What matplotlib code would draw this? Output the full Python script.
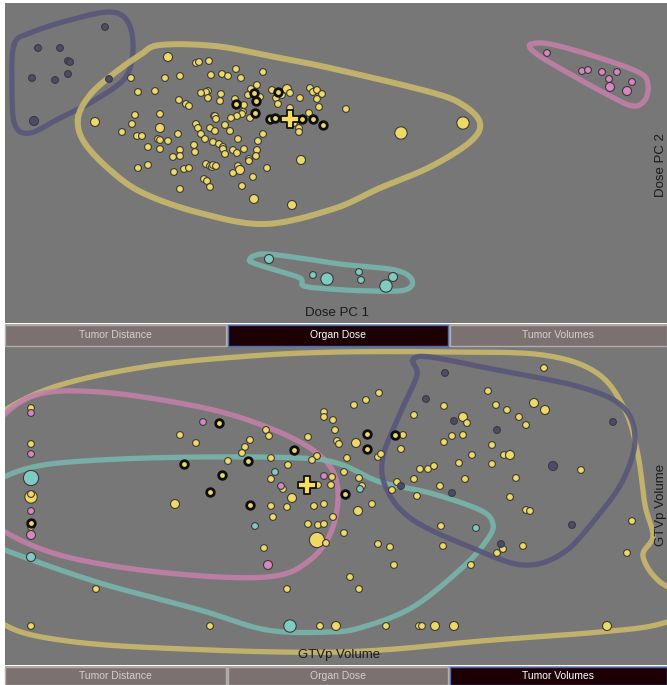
import numpy as np
import matplotlib
matplotlib.use("Agg")
import matplotlib.pyplot as plt
from matplotlib.patches import Rectangle

W, H = 667, 685

# ---------------- Organ Dose panel (screen units of the projection) ----------------
# (x, y, size class)
dose_yellow = [
    (168, 57, 2), (196, 63, 1), (199, 62, 1), (209, 61, 1), (131, 78, 1), (165, 78, 1), (180, 76, 1),
    (211, 75, 1), (138, 92, 1), (155, 91, 1), (208, 91, 1), (206, 92, 1), (201, 93, 1), (208, 98, 1),
    (179, 100, 1), (186, 104, 1), (189, 106, 1), (95, 122, 2), (135, 115, 1), (160, 114, 1), (132, 124, 1),
    (160, 128, 2), (196, 124, 1), (198, 128, 1), (210, 128, 1), (122, 132, 1), (201, 134, 1), (178, 134, 1),
    (137, 136, 1), (142, 136, 1), (158, 139, 1), (160, 140, 1), (168, 141, 1), (205, 139, 1), (194, 145, 1),
    (148, 147, 1), (160, 149, 1), (180, 150, 1), (195, 152, 1), (173, 157, 1), (180, 156, 1), (148, 165, 1),
    (138, 168, 1), (174, 172, 1), (184, 169, 1), (189, 168, 1), (206, 164, 1), (210, 166, 1), (212, 167, 1),
    (204, 179, 1), (207, 181, 1), (210, 187, 1), (180, 189, 1), (214, 116, 1), (213, 142, 1),
    (236, 69, 1), (222, 74, 1), (228, 76, 1), (241, 78, 1), (263, 72, 1), (221, 94, 1), (220, 101, 1),
    (235, 99, 1), (244, 105, 1), (248, 95, 1), (251, 89, 1), (257, 85, 1), (260, 97, 1), (243, 112, 1),
    (242, 114, 1), (250, 118, 1), (237, 116, 1), (231, 118, 1), (215, 116, 1), (216, 119, 1), (225, 125, 1),
    (215, 131, 1), (230, 131, 1), (238, 139, 1), (263, 134, 1), (258, 141, 1), (219, 144, 1), (223, 147, 1),
    (223, 149, 1), (225, 154, 1), (233, 150, 1), (237, 153, 1), (244, 149, 1), (257, 150, 1), (256, 156, 1),
    (249, 159, 1), (249, 161, 1), (213, 165, 1), (216, 166, 1), (238, 166, 1), (240, 170, 2), (233, 173, 1),
    (267, 168, 1), (253, 177, 1), (242, 186, 1), (254, 199, 2), (292, 205, 2), (272, 90, 1), (276, 98, 1),
    (282, 95, 1), (287, 89, 2), (290, 93, 1), (278, 104, 1), (290, 108, 1), (300, 98, 1), (294, 123, 1),
    (299, 128, 1), (299, 132, 1), (309, 113, 1), (310, 88, 1), (313, 92, 1), (317, 90, 1), (322, 94, 1),
    (317, 99, 1), (319, 107, 1), (301, 160, 2), (346, 109, 1), (401, 133, 3), (463, 123, 3),
]
dose_ring = [(254, 93), (256, 101), (236, 104), (255, 113), (278, 92), (270, 119), (275, 118),
             (302, 119), (313, 119), (323, 125)]
dose_cross = [(290, 119)]
dose_purple = [(105, 27, 1), (38, 48, 1), (60, 48, 1), (68, 61, 1), (70, 62, 1), (32, 78, 1),
               (55, 80, 1), (68, 74, 1), (109, 79, 1), (34, 121, 2)]
dose_pink = [(547, 53, 1), (582, 71, 1), (588, 70, 1), (602, 72, 1), (609, 79, 1), (617, 72, 1),
             (632, 82, 1), (610, 87, 2), (627, 91, 2)]
dose_teal = [(269, 259, 2), (313, 275, 1), (327, 279, 3), (359, 272, 1), (361, 280, 1),
             (386, 286, 3), (393, 277, 2)]

dose_yellow_hull = [(78, 118), (90, 95), (112, 75), (140, 55), (160, 45), (215, 46), (270, 56), (330, 68),
                    (430, 92), (463, 105), (480, 123), (470, 142), (430, 167), (380, 188), (333, 209),
                    (265, 224), (200, 213), (143, 193), (110, 170), (84, 142)]
dose_purple_hull = [(14, 45), (30, 33), (70, 20), (110, 12), (128, 22), (133, 50), (125, 78), (95, 100),
                    (60, 118), (30, 133), (15, 125), (12, 90)]
dose_pink_hull = [(530, 45), (550, 44), (600, 58), (640, 73), (648, 85), (645, 100), (633, 106),
                  (610, 96), (570, 74), (538, 55)]
dose_teal_hull = [(250, 261), (262, 254), (300, 258), (340, 264), (395, 270), (412, 280), (405, 290),
                  (370, 291), (330, 289), (304, 286), (300, 278), (275, 270)]

# ---------------- Tumor Volumes panel ----------------
vol_yellow = [
    (31, 408, 1), (31, 444, 1), (31, 475, 1), (31, 497, 3), (31, 494, 1), (31, 527, 1), (96, 589, 1),
    (31, 626, 1), (210, 626, 1), (320, 626, 1), (336, 626, 2), (287, 589, 1), (264, 548, 1), (317, 540, 4),
    (326, 543, 1), (180, 435, 1), (196, 443, 1), (266, 430, 1), (269, 436, 1), (250, 440, 1), (245, 447, 1),
    (242, 453, 1), (228, 461, 1), (271, 458, 1), (271, 479, 1), (288, 465, 1), (308, 437, 1), (324, 412, 1),
    (324, 417, 1), (333, 420, 1), (335, 430, 1), (337, 441, 1), (339, 444, 1), (347, 458, 1), (317, 456, 1),
    (312, 460, 1), (344, 472, 1), (332, 477, 1), (318, 485, 1), (331, 485, 1), (283, 489, 1), (292, 498, 2),
    (175, 504, 2), (271, 506, 1), (287, 507, 1), (273, 517, 1), (314, 506, 1), (324, 504, 1), (333, 517, 1),
    (308, 524, 1), (318, 525, 1), (324, 524, 1), (344, 533, 1),
    (488, 391, 1), (379, 393, 1), (366, 400, 1), (354, 405, 1), (444, 406, 1), (496, 405, 1), (507, 410, 1),
    (463, 417, 2), (467, 423, 1), (414, 415, 1), (519, 417, 1), (403, 435, 1), (452, 436, 1), (463, 435, 1),
    (444, 442, 1), (356, 443, 2), (401, 449, 1), (492, 445, 1), (378, 457, 1), (381, 454, 1), (472, 455, 1),
    (504, 455, 1), (510, 455, 2), (459, 463, 1), (492, 464, 1), (420, 469, 1), (428, 469, 1), (434, 466, 1),
    (359, 478, 1), (414, 479, 1), (465, 479, 1), (516, 478, 1), (362, 486, 1), (397, 482, 1), (392, 490, 1),
    (440, 486, 1), (417, 496, 1), (510, 497, 1), (372, 504, 1), (358, 511, 2), (544, 368, 1), (534, 403, 2),
    (545, 410, 2), (526, 425, 1), (581, 470, 1), (526, 510, 1), (530, 511, 1), (632, 521, 1), (627, 553, 1),
    (497, 553, 1), (503, 549, 1), (523, 546, 1), (441, 526, 1), (443, 546, 1), (471, 565, 1), (378, 544, 1),
    (390, 547, 1), (394, 565, 1), (350, 577, 1), (359, 589, 1), (386, 626, 1), (419, 626, 1), (422, 626, 1),
    (435, 626, 2), (454, 626, 2), (607, 626, 2),
]
vol_ring = [(31, 523), (219, 423), (248, 461), (184, 464), (222, 475), (294, 450), (210, 492),
            (250, 505), (345, 494), (367, 434), (395, 435), (367, 449)]
vol_cross = [(307, 485)]
vol_pink = [(31, 413, 1), (31, 454, 1), (31, 511, 1), (31, 535, 2), (203, 422, 1), (324, 476, 1),
            (281, 486, 1), (268, 565, 2)]
vol_teal = [(31, 478, 4), (31, 557, 2), (290, 626, 3), (255, 526, 1), (275, 472, 1), (360, 489, 1),
            (476, 528, 1)]
vol_purple = [(445, 373, 1), (426, 399, 1), (454, 421, 1), (497, 430, 1), (401, 486, 1), (452, 493, 1),
              (613, 422, 1), (553, 466, 2), (572, 525, 1), (501, 544, 1)]

vol_yellow_hull = [(-30, 440), (5, 410), (60, 385), (150, 366), (250, 356), (340, 352), (450, 352),
                   (543, 355), (597, 373), (625, 410), (638, 455), (645, 505), (653, 536), (643, 556),
                   (660, 582), (700, 605), (660, 624), (600, 632), (493, 640), (340, 652), (160, 648),
                   (60, 640), (5, 625), (-30, 590)]
vol_pink_hull = [(-30, 470), (-10, 430), (33, 396), (100, 392), (200, 407), (267, 427), (317, 453),
                 (337, 483), (333, 527), (310, 560), (267, 577), (167, 573), (67, 557), (5, 532), (-25, 505)]
vol_teal_hull = [(-30, 510), (-10, 485), (33, 467), (100, 460), (200, 457), (300, 458), (340, 464),
                 (380, 482), (430, 493), (480, 510), (493, 524), (487, 540), (463, 567), (413, 607),
                 (363, 627), (330, 632), (267, 630), (200, 610), (100, 583), (5, 550), (-25, 535)]
vol_purple_hull = [(413, 360), (417, 375), (403, 407), (383, 457), (387, 490), (413, 520), (470, 547),
                   (523, 565), (563, 553), (597, 517), (623, 480), (635, 440), (623, 407), (580, 387),
                   (497, 370), (430, 357)]

BUTTONS = ["Tumor Distance", "Organ Dose", "Tumor Volumes"]

YELLOW, PURPLE, PINK, TEAL = "#eed866", "#4c4b6c", "#d886c0", "#80cbc1"
HULL = {"y": "#cbbb6c", "p": "#56557a", "k": "#c480aa", "t": "#78b6ac"}
SIZES = {1: 24, 2: 42, 3: 80, 4: 120}
BG = "#777777"


def smooth_loop(pts, n=24):
    # closed Catmull-Rom curve through the hull vertices
    p = np.asarray(pts, float)
    k = len(p)
    t = np.linspace(0, 1, n, endpoint=False)[:, None]
    segs = []
    for i in range(k):
        p0, p1, p2, p3 = p[i - 1], p[i], p[(i + 1) % k], p[(i + 2) % k]
        segs.append(0.5 * (2 * p1 + (-p0 + p2) * t + (2 * p0 - 5 * p1 + 4 * p2 - p3) * t ** 2
                           + (-p0 + 3 * p1 - 3 * p2 + p3) * t ** 3))
    out = np.vstack(segs)
    return np.vstack([out, out[:1]])


def draw_hull(ax, pts, color, lw=3.8):
    c = smooth_loop(pts)
    ax.plot(c[:, 0], c[:, 1], color=color, lw=lw, alpha=0.88, solid_joinstyle="round", zorder=2)


def draw_points(ax, pts, color):
    x = [p[0] for p in pts]
    y = [p[1] for p in pts]
    s = [SIZES[p[2]] for p in pts]
    ax.scatter(x, y, s=s, c=color, edgecolors="#3a3a3a", linewidths=0.8, zorder=3)


def draw_rings(ax, pts):
    ax.scatter([p[0] for p in pts], [p[1] for p in pts], s=30, c=YELLOW,
               edgecolors="#0e0e0e", linewidths=2.0, zorder=4)


def draw_cross(ax, pts):
    ax.scatter([p[0] for p in pts], [p[1] for p in pts], s=170, marker="P", c="#f4de5c",
               edgecolors="#111111", linewidths=1.3, zorder=5)


def button_row(fig, y0, y1, active):
    fig.add_artist(Rectangle((5 / W, 1 - y1 / H), 662 / W, (y1 - y0) / H, transform=fig.transFigure,
                             facecolor="#a9a6a6", edgecolor="none", zorder=0))
    edges = [(5, 226), (228, 448), (450, 667)]
    for i, (name, (x0, x1)) in enumerate(zip(BUTTONS, edges)):
        on = i == active
        fig.add_artist(Rectangle((x0 / W, 1 - (y1 - 1) / H), (x1 - x0) / W, (y1 - y0 - 2) / H,
                                 transform=fig.transFigure,
                                 facecolor="#1c0003" if on else "#7b7171",
                                 edgecolor="#4a6cc0" if on else "#b3acac", lw=1.0, zorder=1))
        fig.text((x0 + x1) / 2 / W, 1 - (y0 + y1) / 2 / H, name, ha="center", va="center",
                 fontsize=7.5, family=["Liberation Sans", "DejaVu Sans"],
                 color="white" if on else "#d6cfcf", zorder=2)


fig = plt.figure(figsize=(W / 100, H / 100), dpi=100, facecolor="white")

# top panel
ax1 = fig.add_axes([5 / W, 1 - 323 / H, 662 / W, 320 / H])
ax1.set_facecolor(BG)
ax1.set_xlim(5, 667)
ax1.set_ylim(323, 3)
draw_hull(ax1, dose_purple_hull, HULL["p"])
draw_hull(ax1, dose_yellow_hull, HULL["y"], lw=4.3)
draw_hull(ax1, dose_pink_hull, HULL["k"])
draw_hull(ax1, dose_teal_hull, HULL["t"])
draw_points(ax1, dose_purple, PURPLE)
draw_points(ax1, dose_yellow, YELLOW)
draw_points(ax1, dose_pink, PINK)
draw_points(ax1, dose_teal, TEAL)
draw_rings(ax1, dose_ring)
draw_cross(ax1, dose_cross)

# bottom panel
ax2 = fig.add_axes([5 / W, 1 - 665 / H, 662 / W, 318 / H])
ax2.set_facecolor(BG)
ax2.set_xlim(5, 667)
ax2.set_ylim(665, 347)
draw_hull(ax2, vol_yellow_hull, HULL["y"])
draw_hull(ax2, vol_pink_hull, HULL["k"])
draw_hull(ax2, vol_teal_hull, HULL["t"])
draw_hull(ax2, vol_purple_hull, HULL["p"])
draw_points(ax2, vol_yellow, YELLOW)
draw_points(ax2, vol_pink, PINK)
draw_points(ax2, vol_teal, TEAL)
draw_points(ax2, vol_purple, PURPLE)
draw_rings(ax2, vol_ring)
draw_cross(ax2, vol_cross)

for ax in (ax1, ax2):
    ax.set_xticks([])
    ax.set_yticks([])
    for sp in ax.spines.values():
        sp.set_visible(False)

lab = dict(fontsize=9.5, color="#1a1a1a", family=["Liberation Sans", "DejaVu Sans"], ha="center", va="center")
fig.text(337 / W, 1 - 313 / H, "Dose PC 1", **lab)
fig.text(661 / W, 1 - 165 / H, "Dose PC 2", rotation=90, **lab)
fig.text(339 / W, 1 - 655 / H, "GTVp Volume", **lab)
fig.text(661 / W, 1 - 505 / H, "GTVp Volume", rotation=90, **lab)

button_row(fig, 324, 347, active=1)
button_row(fig, 666, 686, active=2)

fig.savefig("out.png", dpi=100, facecolor="white")
